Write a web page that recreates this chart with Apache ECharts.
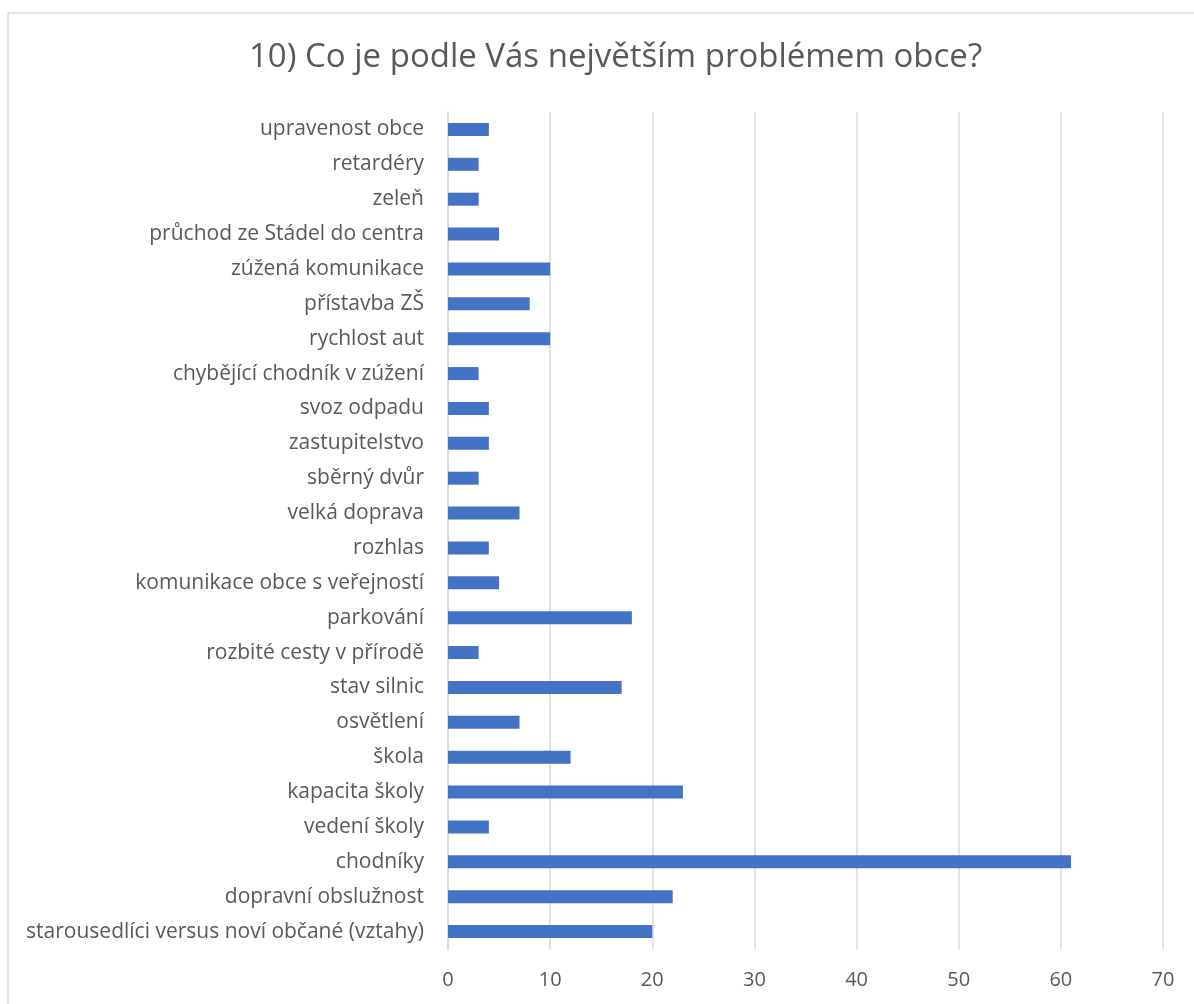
<!DOCTYPE html>
<html><head><meta charset="utf-8">
<script src="https://cdn.jsdelivr.net/npm/echarts@6/dist/echarts.min.js"></script>
<style>html,body{margin:0;padding:0;background:#fff}#c{width:1194px;height:1004px}</style>
</head><body><div id="c"></div>
<script>
const categories = [
  "starousedlíci versus noví občané (vztahy)",
  "dopravní obslužnost",
  "chodníky",
  "vedení školy",
  "kapacita školy",
  "škola",
  "osvětlení",
  "stav silnic",
  "rozbité cesty v přírodě",
  "parkování",
  "komunikace obce s veřejností",
  "rozhlas",
  "velká doprava",
  "sběrný dvůr",
  "zastupitelstvo",
  "svoz odpadu",
  "chybějící chodník v zúžení",
  "rychlost aut",
  "přístavba ZŠ",
  "zúžená komunikace",
  "průchod ze Stádel do centra",
  "zeleň",
  "retardéry",
  "upravenost obce"
];
const values = [20, 22, 61, 4, 23, 12, 7, 17, 3, 18, 5, 4, 7, 3, 4, 4, 3, 10, 8, 10, 5, 3, 3, 4];
const xTicks = [0, 10, 20, 30, 40, 50, 60, 70];
const title = "10) Co je podle Vás největším problémem obce?";

const font = "'Open Sans', 'Noto Sans', sans-serif";
const chart = echarts.init(document.getElementById('c'), null, {renderer: 'canvas'});
chart.setOption({
  animation: false,
  backgroundColor: '#fff',
  graphic: [{
    type: 'rect', shape: {x: 8, y: 13, width: 1300, height: 1100},
    style: {fill: 'none', stroke: '#d9d9d9', lineWidth: 1.5}, silent: true
  }],
  title: {
    text: title, left: 244, top: 36,
    textStyle: {fontFamily: font, fontSize: 33, fontWeight: 'normal', color: '#595959'}
  },
  grid: {left: 448, right: 1194 - 1163, top: 112, bottom: 1004 - 949, containLabel: false},
  xAxis: {
    type: 'value', min: xTicks[0], max: xTicks[xTicks.length - 1], interval: 10,
    axisLine: {show: false}, axisTick: {show: false},
    splitLine: {lineStyle: {color: '#d9d9d9', width: 1.5}},
    axisLabel: {fontFamily: font, fontSize: 20, color: '#595959', margin: 21}
  },
  yAxis: {
    type: 'category', data: categories,
    axisLine: {show: true, lineStyle: {color: '#d9d9d9', width: 1.5}},
    axisTick: {show: false},
    axisLabel: {fontFamily: font, fontSize: 21, color: '#595959', margin: 24}
  },
  series: [{
    type: 'bar', data: values, barWidth: 13,
    itemStyle: {color: '#4472c4'}
  }]
});
</script></body></html>
